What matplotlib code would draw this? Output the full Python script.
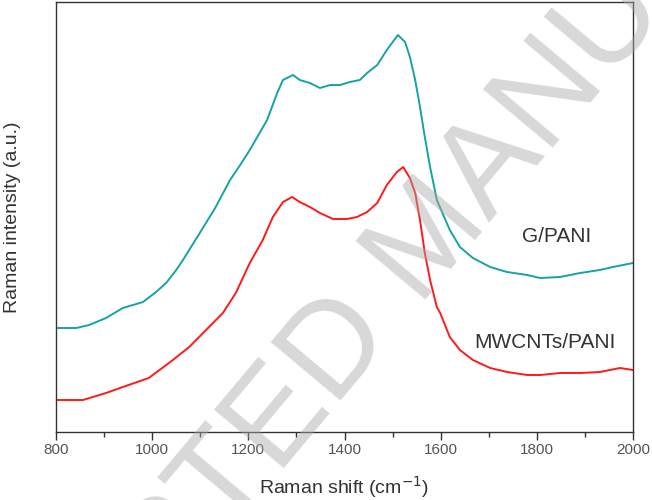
import matplotlib
matplotlib.use("Agg")
import matplotlib.pyplot as plt
from matplotlib.ticker import MultipleLocator, NullLocator

plt.rcParams['font.family'] = ['Liberation Sans', 'DejaVu Sans']

# Raman spectra (intensity in arbitrary units)
shift_g = [800, 842, 869, 904, 939, 981, 1008, 1029, 1050, 1064, 1099, 1131, 1162,
           1183, 1203, 1239, 1260, 1272, 1293, 1307, 1328, 1349, 1370, 1391, 1411,
           1432, 1447, 1468, 1488, 1511, 1526, 1536, 1547, 1557, 1567, 1578, 1592,
           1619, 1640, 1667, 1703, 1738, 1780, 1807, 1848, 1890, 1931, 1958, 2000]
int_g = [104, 104, 107, 114, 124, 130, 140, 149, 162, 172, 199, 224, 252,
         267, 282, 312, 339, 352, 357, 352, 349, 344, 347, 347, 350,
         352, 359, 367, 382, 397, 390, 375, 352, 325, 295, 265, 232,
         202, 185, 174, 165, 160, 157, 154, 155, 159, 162, 165, 169]

shift_m = [800, 856, 904, 939, 993, 1043, 1077, 1112, 1147, 1174, 1203, 1230, 1251,
           1272, 1291, 1307, 1328, 1349, 1376, 1405, 1426, 1447, 1468, 1488, 1509,
           1522, 1536, 1547, 1557, 1567, 1578, 1592, 1599, 1619, 1640, 1667, 1703,
           1738, 1780, 1807, 1848, 1890, 1931, 1973, 2000]
int_m = [32, 32, 39, 45, 54, 72, 85, 102, 119, 139, 169, 192, 215,
         230, 235, 230, 225, 219, 213, 213, 215, 220, 229, 247, 260,
         265, 254, 239, 212, 179, 152, 125, 119, 95, 82, 72, 64,
         60, 57, 57, 59, 59, 60, 64, 62]

fig = plt.figure(figsize=(6.52, 5.0), dpi=100)
ax = fig.add_axes([56 / 652, 68 / 500, 577 / 652, 430 / 500])

ax.plot(shift_g, int_g, color='#17a3a3', lw=1.4)
ax.plot(shift_m, int_m, color='#ff1a1a', lw=1.4)

ax.set_xlim(800, 2000)
ax.set_ylim(0, 430)
ax.xaxis.set_major_locator(MultipleLocator(200))
ax.xaxis.set_minor_locator(MultipleLocator(100))
ax.yaxis.set_major_locator(NullLocator())
ax.tick_params(axis='x', which='major', direction='out', length=6, width=1,
               color='#333333', labelsize=11, labelcolor='#555555', pad=2)
ax.tick_params(axis='x', which='minor', direction='out', length=3.5, width=1,
               color='#333333')
for s in ax.spines.values():
    s.set_color('#333333')
    s.set_linewidth(1)

ax.set_xlabel('Raman shift (cm$^{-1}$)', fontsize=14, color='#333333', labelpad=12)
ax.set_ylabel('Raman intensity (a.u.)', fontsize=14, color='#333333', labelpad=25)

ax.text(1842, 195, 'G/PANI', fontsize=15, color='#333333', ha='center', va='center')
ax.text(1817, 89, 'MWCNTs/PANI', fontsize=15, color='#333333', ha='center', va='center')

# watermark
fig.text(0.66, 0.52, 'ACCEPTED MANUSCRIPT', fontsize=95, color='#a8a8a8', alpha=0.45,
         rotation=50, ha='center', va='center', zorder=10)

fig.savefig('out.png', dpi=100)
